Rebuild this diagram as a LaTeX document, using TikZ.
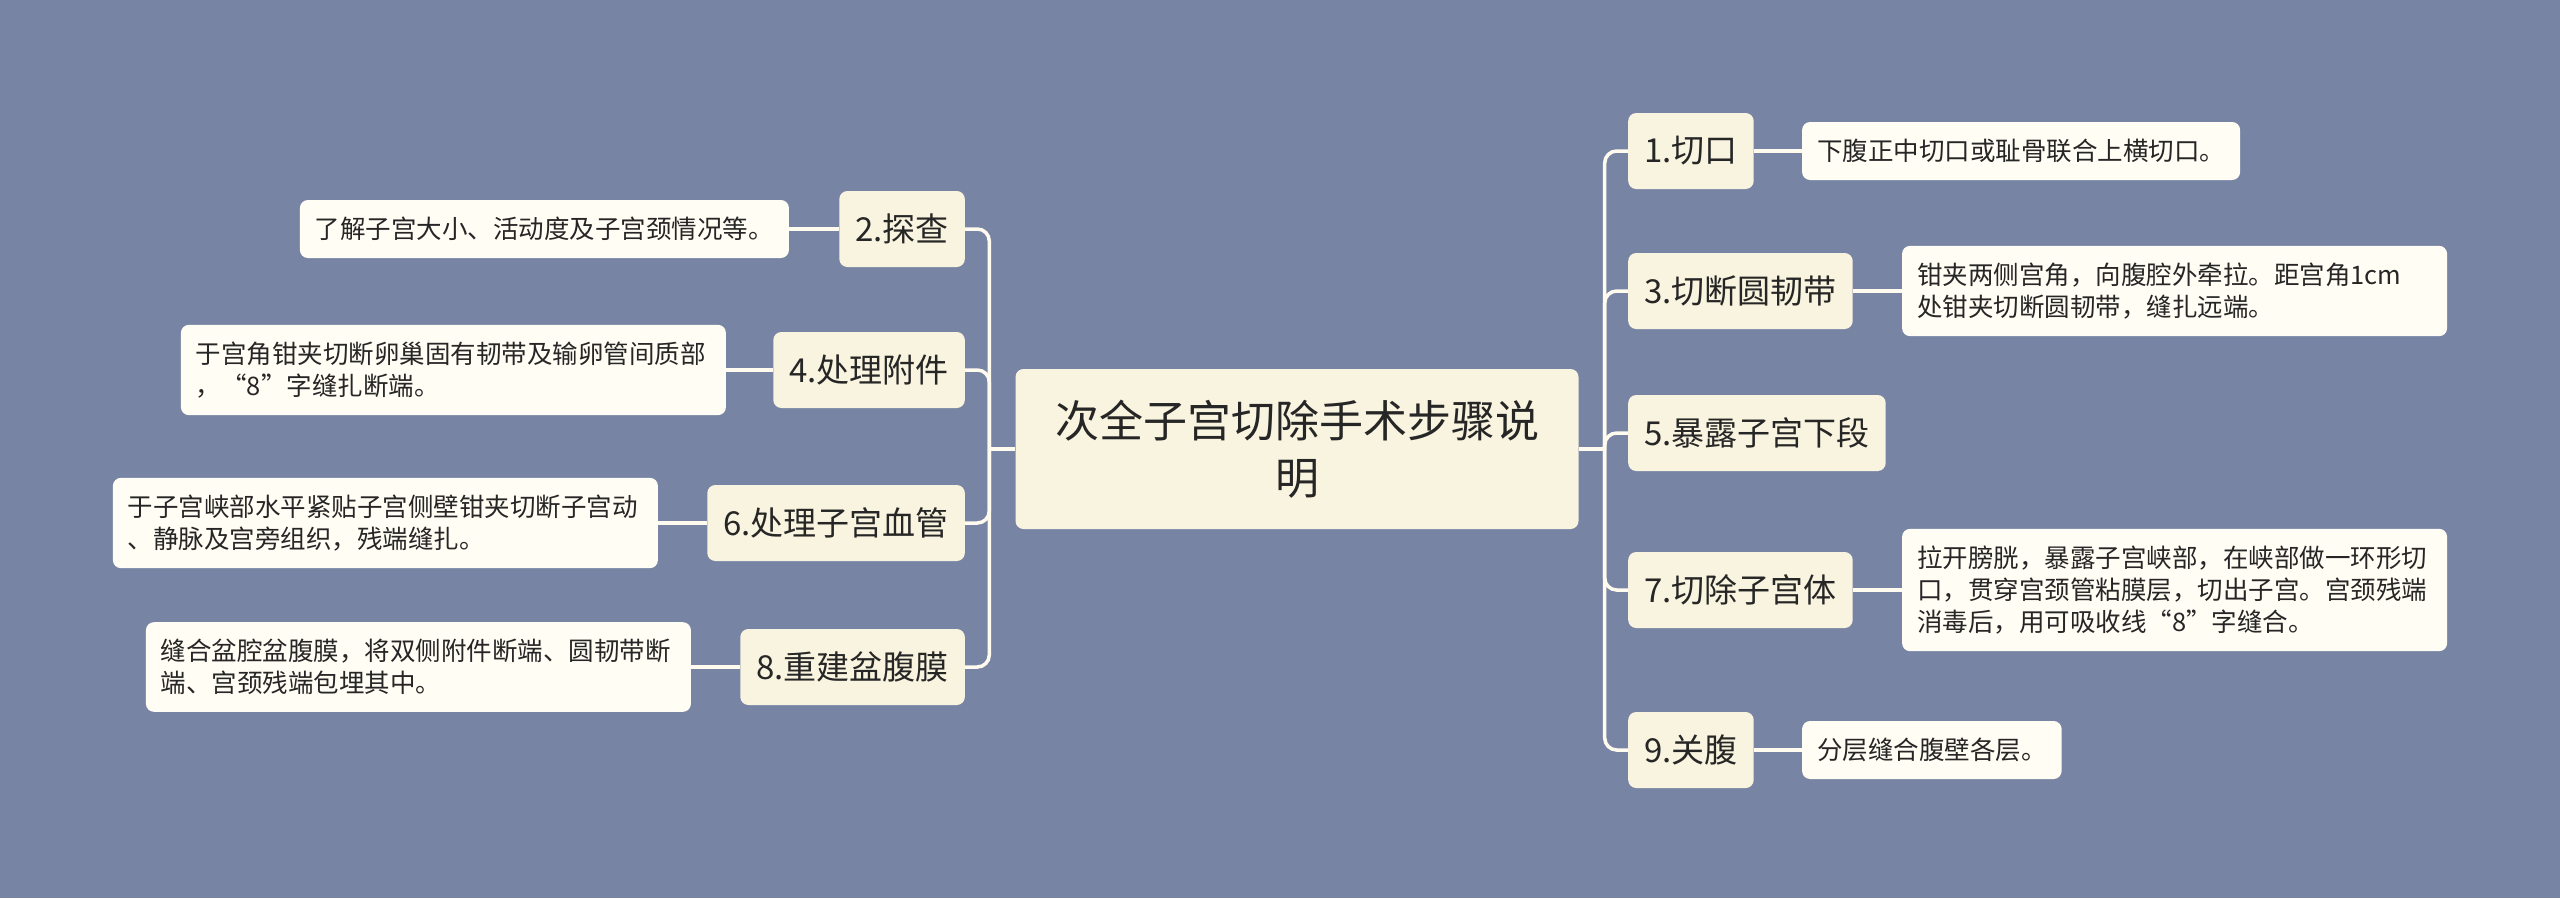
\documentclass[tikz,border=0pt]{standalone}
\definecolor{mapbg}{RGB}{120, 132, 164}
\definecolor{topicfill}{RGB}{249, 244, 223}
\definecolor{notefill}{RGB}{255, 253, 244}
\definecolor{linkcol}{RGB}{255, 251, 238}
\definecolor{inkcol}{RGB}{38, 38, 38}
\usepackage{fontspec}
\setmainfont{Noto Sans CJK SC}
\usepackage{tikz}
\usetikzlibrary{positioning}

\begin{document}
\begin{tikzpicture}[x=1pt, y=-1pt,
    rootbox/.style={fill=topicfill, rounded corners=8pt, minimum width=563pt, minimum height=160pt,
      align=center, text=inkcol, font=\fontsize{44}{57}\selectfont},
    topicbox/.style={fill=topicfill, rounded corners=8pt, minimum height=76pt, inner xsep=16pt,
      text=inkcol, font=\fontsize{33}{40}\selectfont},
    notebox/.style={fill=notefill, rounded corners=8pt, minimum height=58pt, inner xsep=15pt,
      inner ysep=17pt, align=left, text=inkcol, font=\fontsize{25.5}{32}\selectfont},
    widenote/.style={notebox, text width=515pt},
    link/.style={draw=linkcol, line width=3.5pt, rounded corners=12pt}]
  \fill[mapbg] (0,0) rectangle (2560,898);
  \useasboundingbox (0,0) rectangle (2560,898);

  \node[rootbox] (root) at (1297,449) {次全子宫切除手术步骤说\\明};

  % right side
  \node[topicbox, anchor=west] (s1) at (1628,151) {1.切口};
  \node[topicbox, anchor=west] (s3) at (1628,291) {3.切断圆韧带};
  \node[topicbox, anchor=west] (s5) at (1628,433) {5.暴露子宫下段};
  \node[topicbox, anchor=west] (s7) at (1628,590) {7.切除子宫体};
  \node[topicbox, anchor=west] (s9) at (1628,750) {9.关腹};

  \node[notebox, right=48pt of s1] (n1) {下腹正中切口或耻骨联合上横切口。};
  \node[widenote, right=49pt of s3] (n3) {钳夹两侧宫角，向腹腔外牵拉。距宫角1cm\\处钳夹切断圆韧带，缝扎远端。};
  \node[widenote, right=49pt of s7] (n7) {拉开膀胱，暴露子宫峡部，在峡部做一环形切\\口，贯穿宫颈管粘膜层，切出子宫。宫颈残端\\消毒后，用可吸收线“8”字缝合。};
  \node[notebox, right=48pt of s9] (n9) {分层缝合腹壁各层。};

  % left side
  \node[topicbox, anchor=east] (s2) at (965,229) {2.探查};
  \node[topicbox, anchor=east] (s4) at (965,370) {4.处理附件};
  \node[topicbox, anchor=east] (s6) at (965,523) {6.处理子宫血管};
  \node[topicbox, anchor=east] (s8) at (965,667) {8.重建盆腹膜};

  \node[notebox, left=50pt of s2] (n2) {了解子宫大小、活动度及子宫颈情况等。};
  \node[widenote, left=47pt of s4] (n4) {于宫角钳夹切断卵巢固有韧带及输卵管间质部\\，“8”字缝扎断端。};
  \node[widenote, left=49pt of s6] (n6) {于子宫峡部水平紧贴子宫侧壁钳夹切断子宫动\\、静脉及宫旁组织，残端缝扎。};
  \node[widenote, left=49pt of s8] (n8) {缝合盆腔盆腹膜，将双侧附件断端、圆韧带断\\端、宫颈残端包埋其中。};

  % connectors
  \coordinate (rt) at ([xshift=26pt]root.east);
  \coordinate (lt) at ([xshift=-26pt]root.west);
  \draw[link] (root.east) -- (rt);
  \draw[link] (root.west) -- (lt);
  \foreach \k in {s1,s3,s5,s7,s9}
    \draw[link] (rt) |- (\k.west);
  \foreach \k in {s2,s4,s6,s8}
    \draw[link] (lt) |- (\k.east);
  \draw[link] (s1) -- (n1);
  \draw[link] (s3) -- (n3);
  \draw[link] (s7) -- (n7);
  \draw[link] (s9) -- (n9);
  \draw[link] (s2) -- (n2);
  \draw[link] (s4) -- (n4);
  \draw[link] (s6) -- (n6);
  \draw[link] (s8) -- (n8);
\end{tikzpicture}
\end{document}
